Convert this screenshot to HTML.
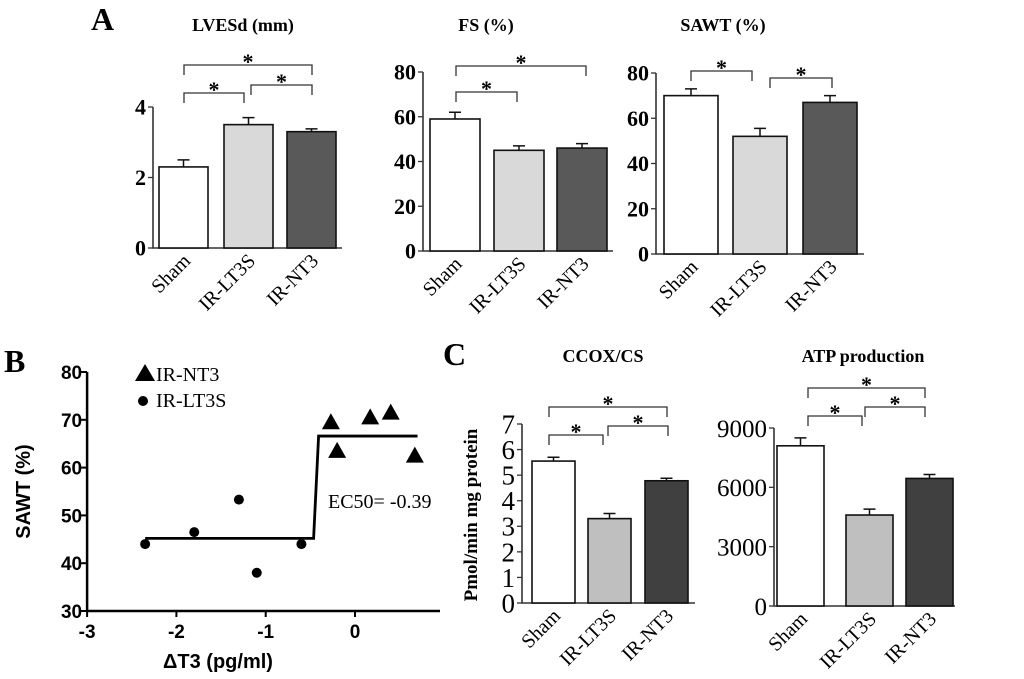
<!DOCTYPE html>
<html><head><meta charset="utf-8"><style>
body{margin:0;background:#fff;width:1024px;height:679px;overflow:hidden}
svg{display:block}
.s{font-family:"Liberation Serif",serif}
.a{font-family:"Liberation Sans",sans-serif}
</style></head><body>
<svg id="fig" width="1024" height="679" viewBox="0 0 1024 679">
<g class="s" font-weight="bold" fill="#000">
<text x="91" y="30" font-size="32">A</text>
<text x="243" y="31" font-size="18" text-anchor="middle">LVESd (mm)</text>
<text x="486" y="31" font-size="18" text-anchor="middle">FS (%)</text>
<text x="723" y="31" font-size="18" text-anchor="middle">SAWT (%)</text>
<text x="4" y="372" font-size="32">B</text>
<text x="443" y="365" font-size="32">C</text>
<text x="603" y="362" font-size="18" text-anchor="middle">CCOX/CS</text>
<text x="863" y="362" font-size="18" text-anchor="middle">ATP production</text>
<text transform="translate(477,515) rotate(-90)" font-size="19" text-anchor="middle">Pmol/min mg protein</text>
</g>
<g id="bars"></g>
<g id="scatter"></g>
</svg>
<script>
const NS="http://www.w3.org/2000/svg";
const cats=["Sham","IR-LT3S","IR-NT3"];
const fills=["#ffffff","#d9d9d9","#595959"];
const fillsC=["#ffffff","#bfbfbf","#404040"];
const lvesdVals=[2.3,3.5,3.3], lvesdErr=[0.2,0.2,0.08], lvesdTicks=[0,2,4];
const fsVals=[59,45,46], fsErr=[3,2,2], fsTicks=[0,20,40,60,80];
const sawtVals=[70,52,67], sawtErr=[3,3.5,3], sawtTicks=[0,20,40,60,80];
const ccoxVals=[5.55,3.3,4.78], ccoxErr=[0.15,0.2,0.1], ccoxTicks=[0,1,2,3,4,5,6,7];
const atpVals=[8100,4600,6450], atpErr=[400,300,200], atpTicks=[0,3000,6000,9000];
const scatLT3Sx=[-2.35,-1.8,-1.3,-1.1,-0.6], scatLT3Sy=[44,46.5,53.3,38,44];
const scatNT3x=[-0.27,-0.2,0.17,0.4,0.67], scatNT3y=[69.5,63.5,70.5,71.5,62.5];
const fitLow=45.2, fitHigh=66.6, fitEC50=-0.43, fitXmin=-2.35, fitXmax=0.7;
const scatXTicks=[-3,-2,-1,0], scatYTicks=[30,40,50,60,70,80];

function mk(tag,attrs,parent,txt){const e=document.createElementNS(NS,tag);for(const k in attrs)e.setAttribute(k,attrs[k]);if(txt!==undefined)e.textContent=txt;parent.appendChild(e);return e;}

function barChart(cfg){
  const root=document.getElementById('bars');
  const g=mk('g',{},root);
  
  
  const y=v=>cfg.y0-(v-0)/(cfg.max)*(cfg.y0-cfg.yTop);
  const ax=mk('path',{d:`M${cfg.ax} ${cfg.yTop}V${cfg.y0}H${cfg.axEnd}`,stroke:'#333',fill:'none','stroke-width':1.6},g);
  
  
  cfg.ticks.forEach(t=>{
    mk('line',{x1:cfg.ax-5,x2:cfg.ax,y1:y(t),y2:y(t),stroke:'#333','stroke-width':1.3},g);
    const tl=mk('text',{x:cfg.ax-7,y:y(t)+cfg.fs*0.35,'text-anchor':'end','font-size':cfg.fs,'font-weight':cfg.bold?'bold':'normal',class:'s'},g,String(t));
    
    
  });
  cfg.vals.forEach((v,i)=>{
    const x0=cfg.bx[i],w=cfg.bw;
    const r=mk('rect',{x:x0,y:y(v),width:w,height:cfg.y0-y(v),fill:cfg.fills[i],stroke:'#111','stroke-width':1.6},g);
    
    
    const cx=x0+w/2;
    const e=mk('path',{d:`M${cx} ${y(v)}V${y(v+cfg.err[i])}M${cx-6} ${y(v+cfg.err[i])}H${cx+6}`,stroke:'#111','stroke-width':1.5,fill:'none'},g);
    
    
    const lx=cx+8,ly=cfg.y0+14;
    const cl=mk('text',{transform:`translate(${lx},${ly}) rotate(-45)`,'text-anchor':'end','font-size':20,class:'s'},g,cats[i]);
    
    
  });
  cfg.brackets.forEach(b=>{
    const p=mk('path',{d:`M${b[0]} ${b[2]+10}V${b[2]}H${b[1]}V${b[2]+10}`,stroke:'#333','stroke-width':1.3,fill:'none'},g);
    
    
    const s=mk('text',{x:(b[0]+b[1])/2,y:b[2]+4,'text-anchor':'middle','font-size':22,'font-weight':'bold',class:'s'},g,'*');
    
    
  });
}
barChart({name:'lvesd',vals:lvesdVals,err:lvesdErr,ticks:lvesdTicks,max:4,ax:153,axEnd:342,y0:248,yTop:107,bx:[159,224,287],bw:49,fills:fills,fs:22,bold:true,brackets:[[184,244,93],[251,312,85],[184,312,65]]});
barChart({name:'fs',vals:fsVals,err:fsErr,ticks:fsTicks,max:80,ax:423,axEnd:613,y0:251,yTop:72,bx:[430,494,557],bw:50,fills:fills,fs:22,bold:true,brackets:[[456,517,92],[456,586,66]]});
barChart({name:'sawt',vals:sawtVals,err:sawtErr,ticks:sawtTicks,max:80,ax:656,axEnd:864,y0:254,yTop:73,bx:[664,733,803],bw:54,fills:fills,fs:22,bold:true,brackets:[[691,752,71],[770,832,78]]});
barChart({name:'ccox',vals:ccoxVals,err:ccoxErr,ticks:ccoxTicks,max:7,ax:522,axEnd:695,y0:603,yTop:424,bx:[532,588,645],bw:43,fills:fillsC,fs:27,bold:false,brackets:[[549,603,435],[608,668,426],[549,667,407]]});
barChart({name:'atp',vals:atpVals,err:atpErr,ticks:atpTicks,max:9000,ax:774,axEnd:955,y0:606,yTop:428,bx:[777,846,906],bw:47,fills:fillsC,fs:25,bold:false,brackets:[[808,862,416],[865,925,407],[808,925,388]]});

(function(){
  const g=document.getElementById('scatter');
  const X=v=>355+(v-0)*89.3, Y=v=>611-(v-30)*4.78;
  const ax=mk('path',{d:`M${X(-3)} ${Y(80)}V${Y(30)}H440`,stroke:'#000','stroke-width':2.5,fill:'none'},g);
  
  
  scatYTicks.forEach(t=>{
    mk('line',{x1:X(-3)-6,x2:X(-3),y1:Y(t),y2:Y(t),stroke:'#000','stroke-width':2},g);
    const l=mk('text',{x:X(-3)-5,y:Y(t)+7,'text-anchor':'end','font-size':19,'font-weight':'bold',class:'a'},g,String(t));
    
    
  });
  scatXTicks.forEach(t=>{
    mk('line',{x1:X(t),x2:X(t),y1:Y(30),y2:Y(30)+6,stroke:'#000','stroke-width':2},g);
    const l=mk('text',{x:X(t),y:Y(30)+27,'text-anchor':'middle','font-size':19,'font-weight':'bold',class:'a'},g,String(t));
    
    
  });
  const yt=mk('text',{transform:`translate(30,${Y(55)}) rotate(-90)`,'text-anchor':'middle','font-size':20,'font-weight':'bold',class:'a'},g,'SAWT (%)');
  
  
  const xt=mk('text',{x:218,y:668,'text-anchor':'middle','font-size':20,'font-weight':'bold',class:'a'},g,'ΔT3 (pg/ml)');
  
  
  const fit=mk('path',{d:`M${X(fitXmin)} ${Y(fitLow)}H${X(fitEC50)-3}L${X(fitEC50)+2} ${Y(fitHigh)}H${X(fitXmax)}`,stroke:'#000','stroke-width':2.8,fill:'none'},g);
  
  
  scatLT3Sx.forEach((x,i)=>{
    const c=mk('circle',{cx:X(x),cy:Y(scatLT3Sy[i]),r:5,fill:'#000'},g);
    
    
  });
  scatNT3x.forEach((x,i)=>{
    const cx=X(x),cy=Y(scatNT3y[i]);
    const p=mk('path',{d:`M${cx} ${cy-9}L${cx+9} ${cy+7}H${cx-9}Z`,fill:'#000'},g);
    
    
  });
  const ec=mk('text',{x:328,y:508,'font-size':20,class:'s'},g,'EC50= -0.39');
  
  
  const lg=mk('g',{},g);
  
  
  mk('path',{d:'M145 364L155 381H135Z',fill:'#000'},lg);
  const l1=mk('text',{x:156,y:381,'font-size':20,class:'s'},lg,'IR-NT3');
  
  
  mk('circle',{cx:143,cy:401,r:5,fill:'#000'},lg);
  const l2=mk('text',{x:156,y:407,'font-size':20,class:'s'},lg,'IR-LT3S');
  
  
})();
</script>
</body></html>
